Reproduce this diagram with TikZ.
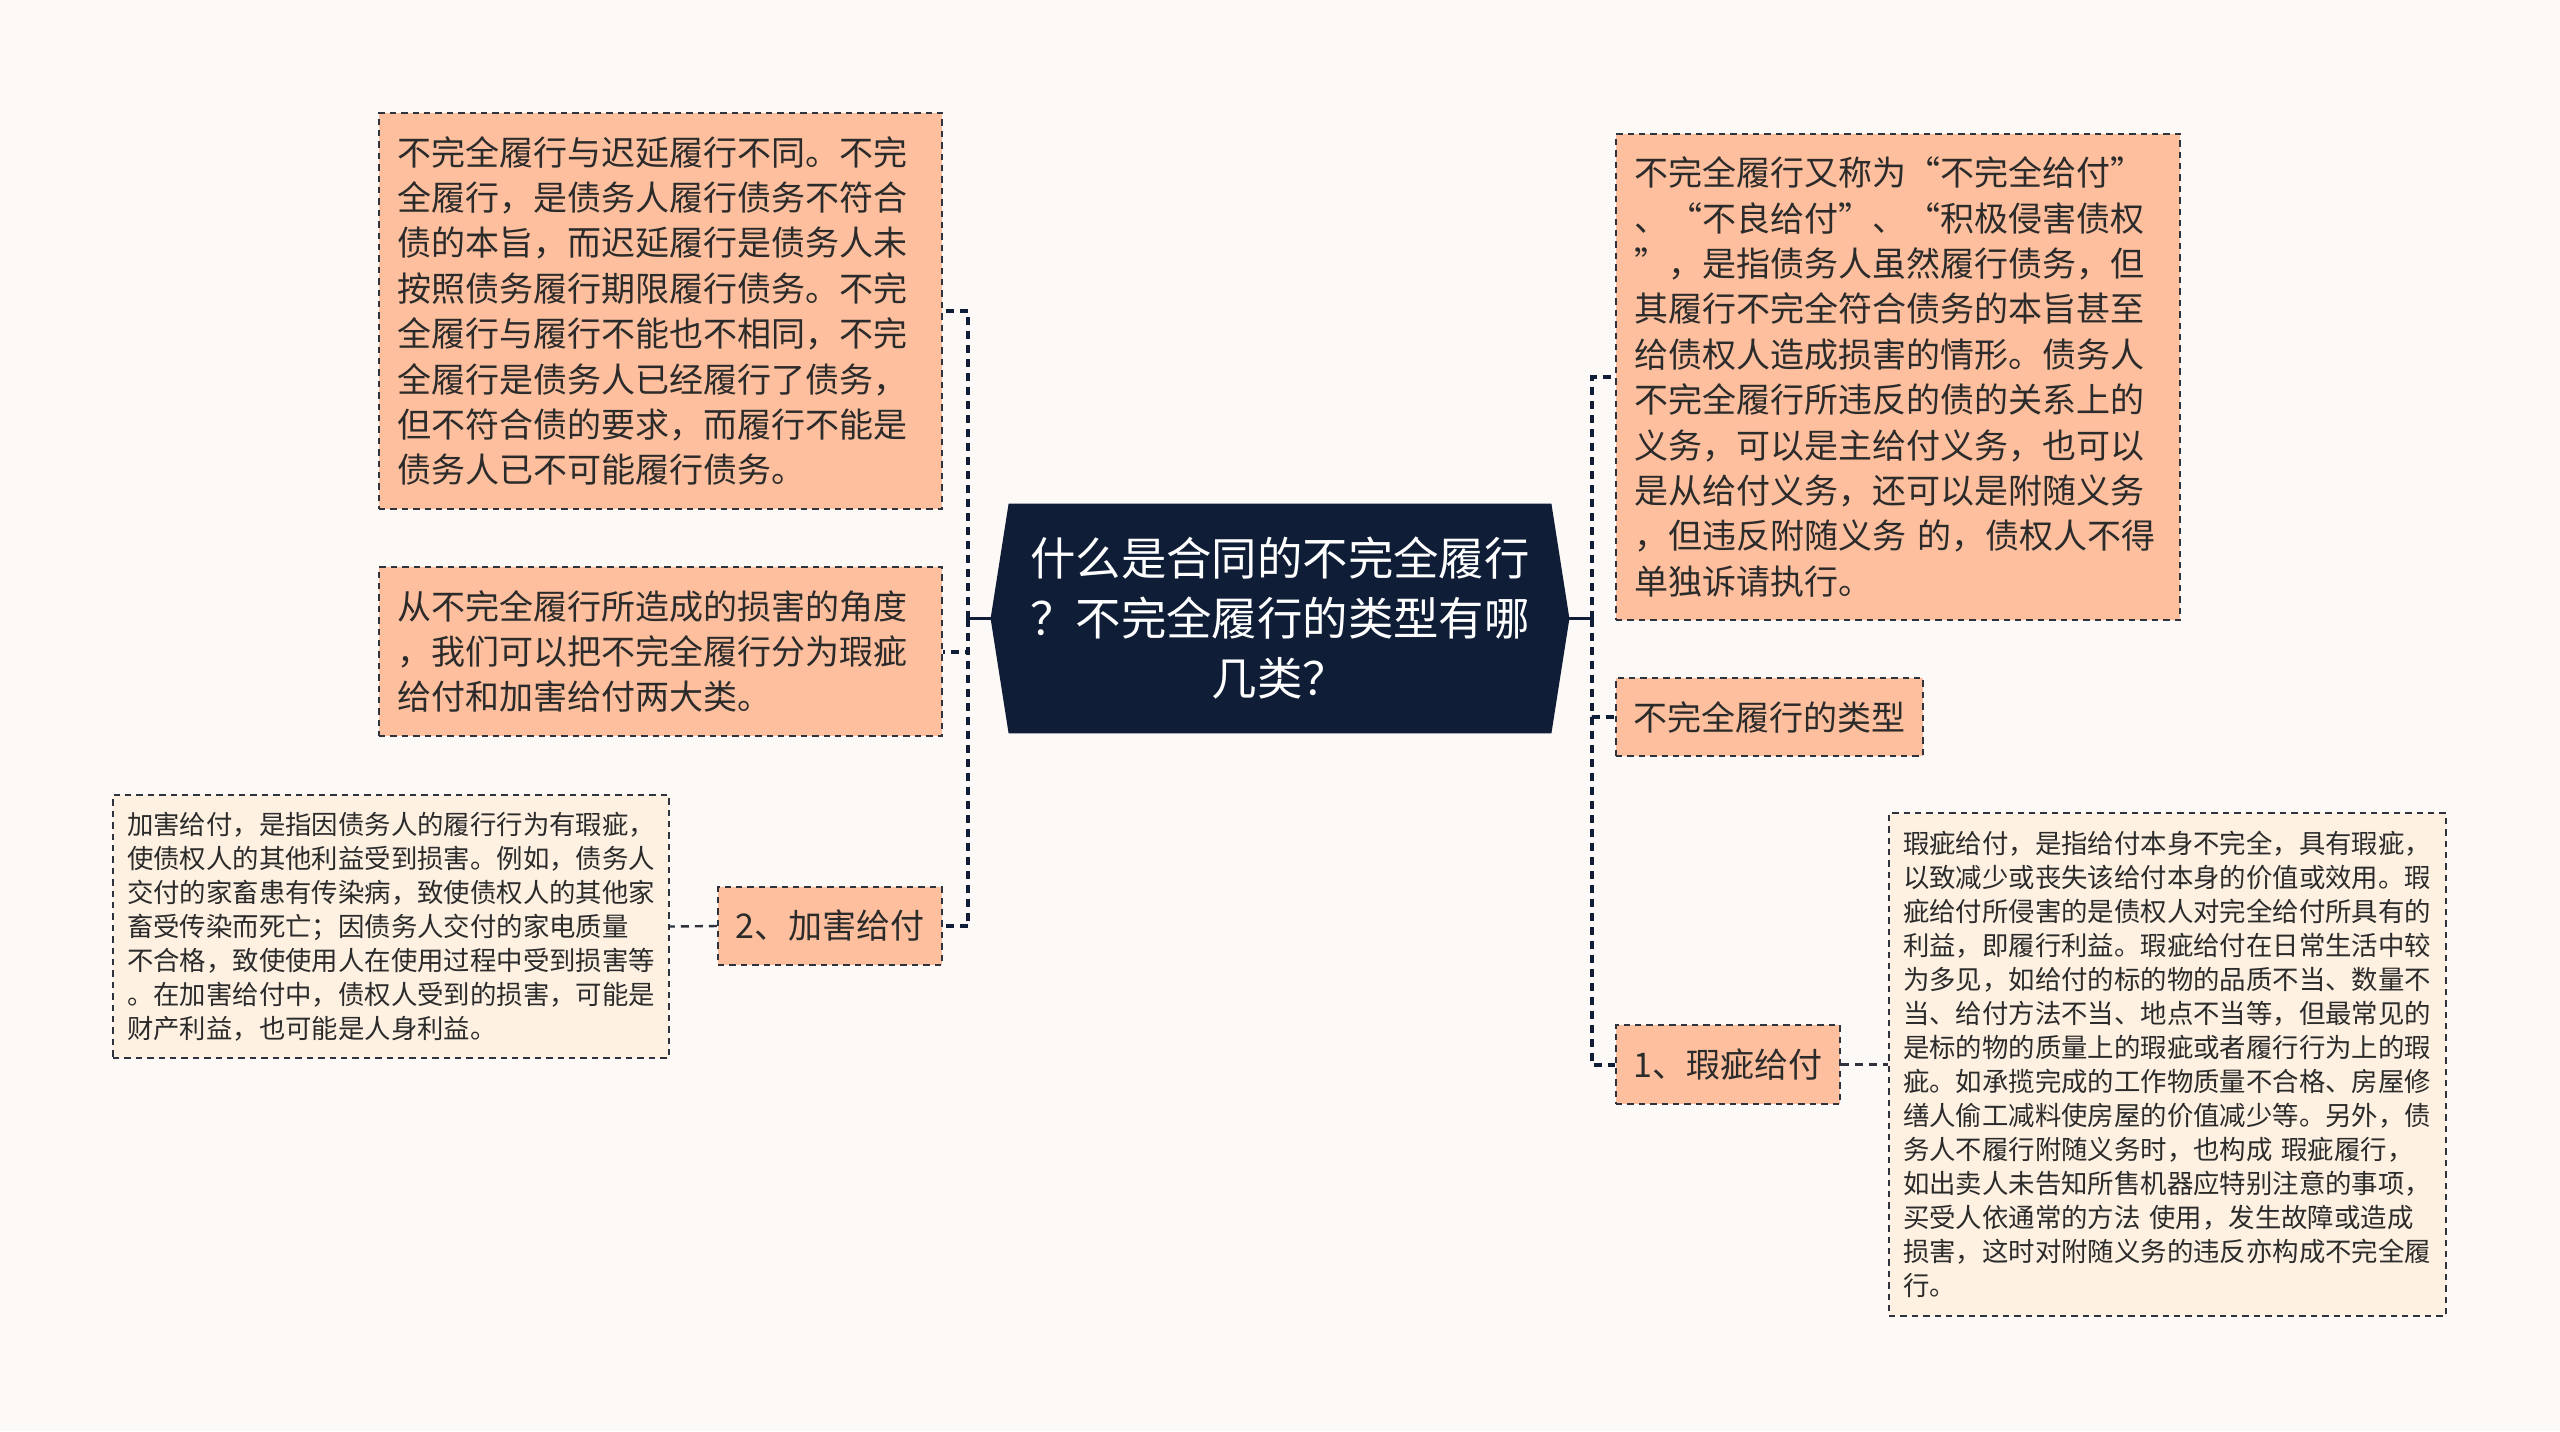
\documentclass[tikz,border=0pt]{standalone}
\usepackage{fontspec}
\setmainfont{Noto Sans CJK SC}
\definecolor{pagebg}{HTML}{FCF9F7}
\definecolor{peach}{HTML}{FDBF9D}
\definecolor{cream}{HTML}{FEF1E2}
\definecolor{navy}{HTML}{0F1E36}
\definecolor{txt}{HTML}{2B2B2B}
\definecolor{bordc}{HTML}{2E333D}
\pgfdeclarelayer{bg}
\pgfsetlayers{bg,main}
\tikzset{
  box/.style={draw=bordc, line width=1.1pt, dash pattern=on 3.2pt off 2.5pt,
    fill=peach, text=txt, align=left, inner xsep=9pt, inner ysep=0pt,
    font=\fontsize{17}{22.7}\selectfont},
  smallbox/.style={draw=bordc, line width=1.1pt, dash pattern=on 3.2pt off 2.5pt,
    fill=cream, text=txt, align=left, inner xsep=7pt, inner ysep=0pt,
    font=\fontsize{13.2}{17}\selectfont},
  tagbox/.style={draw=bordc, line width=1.1pt, dash pattern=on 3.2pt off 2.5pt,
    fill=peach, text=txt, align=center, inner sep=0pt,
    font=\fontsize{17}{22.7}\selectfont},
  central/.style={text=white, align=center, inner sep=0pt, text width=280pt,
    minimum width=289pt, minimum height=114.5pt,
    font=\fontsize{22.7}{30}\selectfont},
  spine/.style={draw=navy, line width=2pt, dash pattern=on 4pt off 3pt},
  stem/.style={draw=navy, line width=1.1pt},
  link/.style={draw=bordc, line width=1.2pt, dash pattern=on 4pt off 3pt}
}
\begin{document}
\begin{tikzpicture}[x=0.5pt,y=-0.5pt]
\begin{pgfonlayer}{bg}
\fill[pagebg] (0,0) rectangle (2560,1431);
\end{pgfonlayer}
\useasboundingbox (0,0) rectangle (2560,1431);

\node[central] (Q) at (1280,618.5) {什么是合同的不完全履行\\？不完全履行的类型有哪\\几类？};
\begin{pgfonlayer}{bg}
\fill[navy] (Q.west) -- ([xshift=9pt]Q.north west) -- ([xshift=-9pt]Q.north east)
  -- (Q.east) -- ([xshift=-9pt]Q.south east) -- ([xshift=9pt]Q.south west) -- cycle;
\end{pgfonlayer}

\node[box, text width=263.5pt, minimum height=198pt] (A) at (660.5,311) {不完全履行与迟延履行不同。不完\\全履行，是债务人履行债务不符合\\债的本旨，而迟延履行是债务人未\\按照债务履行期限履行债务。不完\\全履行与履行不能也不相同，不完\\全履行是债务人已经履行了债务，\\但不符合债的要求，而履行不能是\\债务人已不可能履行债务。};

\node[box, text width=263.5pt, minimum height=84.5pt] (B) at (660.5,651.5) {从不完全履行所造成的损害的角度\\，我们可以把不完全履行分为瑕疵\\给付和加害给付两大类。};

\node[tagbox, minimum width=112pt, minimum height=39pt] (C) at (830,926) {2、加害给付};

\node[smallbox, text width=264pt, minimum height=131.5pt] (D) at (391,926.5) {加害给付，是指因债务人的履行行为有瑕疵，\\使债权人的其他利益受到损害。例如，债务人\\交付的家畜患有传染病，致使债权人的其他家\\畜受传染而死亡；因债务人交付的家电质量\\不合格，致使使用人在使用过程中受到损害等\\。在加害给付中，债权人受到的损害，可能是\\财产利益，也可能是人身利益。};

\node[box, text width=264pt, minimum height=243pt] (E) at (1898,377) {不完全履行又称为“不完全给付”\\、“不良给付”、“积极侵害债权\\”，是指债务人虽然履行债务，但\\其履行不完全符合债务的本旨甚至\\给债权人造成损害的情形。债务人\\不完全履行所违反的债的关系上的\\义务，可以是主给付义务，也可以\\是从给付义务，还可以是附随义务\\，但违反附随义务 的，债权人不得\\单独诉请执行。};

\node[tagbox, minimum width=153.5pt, minimum height=39pt] (F) at (1769.5,717) {不完全履行的类型};

\node[tagbox, minimum width=112pt, minimum height=39.5pt] (G) at (1728,1064.5) {1、瑕疵给付};

\node[smallbox, text width=264.5pt, minimum height=251.5pt] (H) at (2167.5,1064.5) {瑕疵给付，是指给付本身不完全，具有瑕疵，\\以致减少或丧失该给付本身的价值或效用。瑕\\疵给付所侵害的是债权人对完全给付所具有的\\利益，即履行利益。瑕疵给付在日常生活中较\\为多见，如给付的标的物的品质不当、数量不\\当、给付方法不当、地点不当等，但最常见的\\是标的物的质量上的瑕疵或者履行行为上的瑕\\疵。如承揽完成的工作物质量不合格、房屋修\\缮人偷工减料使房屋的价值减少等。另外，债\\务人不履行附随义务时，也构成 瑕疵履行，\\如出卖人未告知所售机器应特别注意的事项，\\买受人依通常的方法 使用，发生故障或造成\\损害，这时对附随义务的违反亦构成不完全履\\行。};

\coordinate (sl) at (968,618.5);
\coordinate (sr) at (1592,618.5);
\draw[stem] (Q.west) -- (sl);
\draw[spine] (sl) |- (A.east);
\draw[spine] (sl) |- (B.east);
\draw[spine] (sl) |- (C.east);
\draw[stem] (Q.east) -- (sr);
\draw[spine] (sr) |- (E.west);
\draw[spine] (sr) |- (F.west);
\draw[spine] (sr) |- (G.west);
\draw[link] (C.west) -- (D.east);
\draw[link] (G.east) -- (H.west);
\end{tikzpicture}
\end{document}
